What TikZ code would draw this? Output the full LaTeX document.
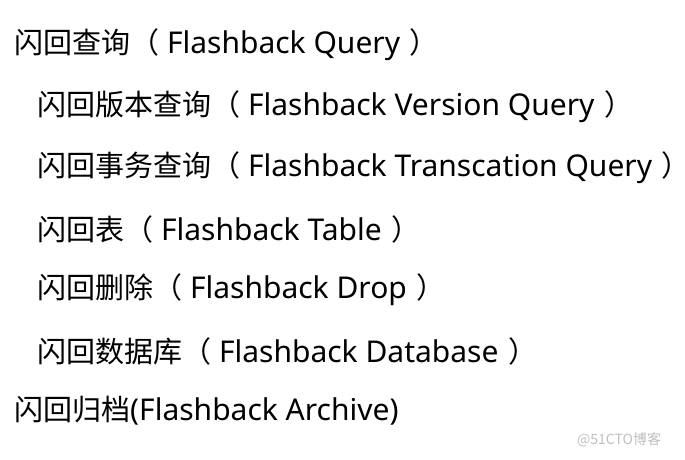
\documentclass[tikz,border=0pt]{standalone}
\usepackage{fontspec}
\setmainfont{Noto Sans}
\newfontfamily\zhfam{Noto Sans CJK SC}
\newcommand{\zh}[1]{{\zhfam\fontsize{29}{31}\selectfont #1}}
\newcommand{\cp}{\hspace{2pt}\makebox[0.35em][l]{\zh{）}}}
\begin{document}
\begin{tikzpicture}[x=1pt,y=-1pt,
  item/.style={anchor=west,inner sep=0pt,font=\fontsize{30}{31}\selectfont,text=black},
  wmark/.style={anchor=west,inner sep=0pt,font=\zhfam\fontsize{14}{16}\selectfont,text=black!25}]
\useasboundingbox[fill=white] (0,0) rectangle (685,459);
\node[item] (q)  at (14,45)  {\zh{闪回查询（} Flashback Query \cp};
\node[item] (v)  at (37,107) {\zh{闪回版本查询（} Flashback Version Query \cp};
\node[item] (t)  at (37,168) {\zh{闪回事务查询（} Flashback Transcation Query \cp};
\node[item] (tb) at (37,229) {\zh{闪回表（} Flashback Table \cp};
\node[item] (d)  at (37,290) {\zh{闪回删除（} Flashback Drop \cp};
\node[item] (db) at (37,351) {\zh{闪回数据库（} Flashback Database \cp};
\node[item] (a)  at (14,411) {\zh{闪回归档}(Flashback Archive)};
\node[wmark] (w) at (577,440) {@51CTO博客};
\end{tikzpicture}
\end{document}
